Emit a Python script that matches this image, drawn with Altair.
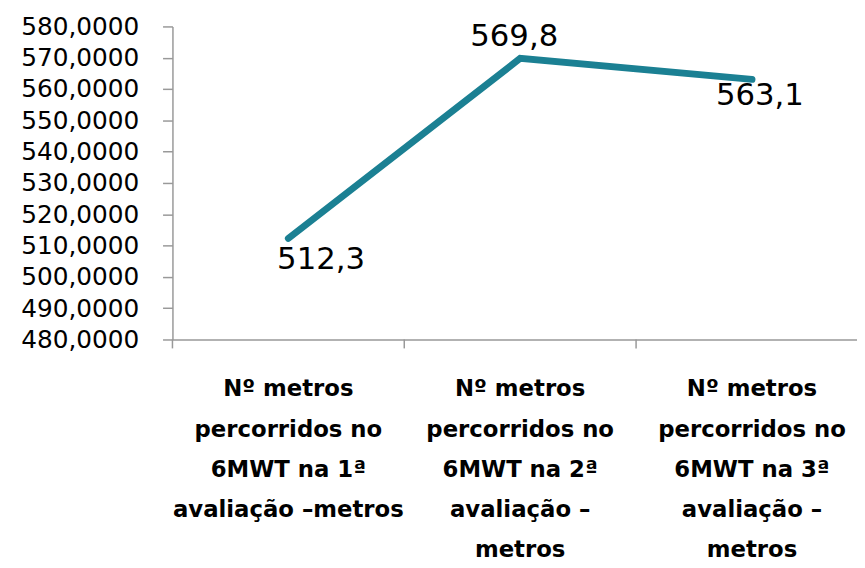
import altair as alt
import pandas as pd

# --- data ---
category_lines = [
    ["Nº metros", "percorridos no", "6MWT na 1ª", "avaliação –metros"],
    ["Nº metros", "percorridos no", "6MWT na 2ª", "avaliação –", "metros"],
    ["Nº metros", "percorridos no", "6MWT na 3ª", "avaliação –", "metros"],
]
values = [512.3, 569.8, 563.1]
y_min, y_max, y_step = 480, 580, 10

categories = ["|".join(l) for l in category_lines]
df = pd.DataFrame({"cat": categories, "value": values, "idx": [0, 1, 2]})

FONT = "DejaVu Sans"
LINE = "#1B8093"
AXIS = "#999999"

x_scale = alt.Scale(type="band", domain=categories, paddingInner=0, paddingOuter=0, range=[0, 702])

x_main = alt.X(
    "cat:N",
    sort=categories,
    scale=x_scale,
    bandPosition=0.5,
    axis=alt.Axis(
        title=None,
        orient="bottom",
        labelAngle=0,
        labelExpr="split(datum.label, '|')",
        labelFont=FONT,
        labelFontSize=23,
        labelFontWeight="bold",
        labelColor="#000000",
        labelLineHeight=40.5,
        labelBaseline="top",
        labelPadding=39,
        labelLimit=400,
        labelOverlap=False,
        ticks=False,
        domain=True,
        domainColor=AXIS,
        domainWidth=1.5,
        grid=False,
    ),
)

y_enc = alt.Y(
    "value:Q",
    scale=alt.Scale(domain=[y_min, y_max], nice=False, zero=False),
    axis=alt.Axis(
        title=None,
        tickCount=int((y_max - y_min) / y_step),
        labelExpr="replace(format(datum.value, '.4f'), '.', ',')",
        labelFont=FONT,
        labelFontSize=25,
        labelColor="#000000",
        labelPadding=24,
        labelOverlap=False,
        tickSize=10,
        tickColor=AXIS,
        tickWidth=1.5,
        domainColor=AXIS,
        domainWidth=1.5,
        grid=False,
    ),
)

base = alt.Chart(df)

line = base.mark_line(color=LINE, strokeWidth=7, strokeCap="round", strokeJoin="miter").encode(
    x=x_main, y=y_enc
)

# category boundary ticks below the x axis
ticks_layer = base.mark_rule(color=AXIS, strokeWidth=1.5).encode(
    x=alt.X("cat:N", sort=categories, bandPosition=0),
    y=alt.value(316),
    y2=alt.value(325),
)

label_text = "replace(format(datum.value, '.1f'), '.', ',')"
offsets = [(33, 22), (-6, -21), (8, 17)]
text_layers = []
for i, (dx, dy) in enumerate(offsets):
    text_layers.append(
        base.transform_filter(alt.datum.idx == i)
        .transform_calculate(lbl=label_text)
        .mark_text(font=FONT, fontSize=31, color="#000000", dx=dx, dy=dy, baseline="middle", align="center")
        .encode(
            x=alt.X("cat:N", sort=categories, bandPosition=0.5),
            y=alt.Y("value:Q"),
            text="lbl:N",
        )
    )

chart = (
    alt.layer(line, ticks_layer, *text_layers)
    .properties(
        width=690,
        height=316,
        background="white",
        autosize=alt.AutoSizeParams(type="none"),
        padding={"left": 166, "top": 16, "right": 1, "bottom": 222},
    )
    .configure_view(stroke="transparent", strokeWidth=0)
)

chart.save("out.html", embed_options={"renderer": "svg", "actions": False})
